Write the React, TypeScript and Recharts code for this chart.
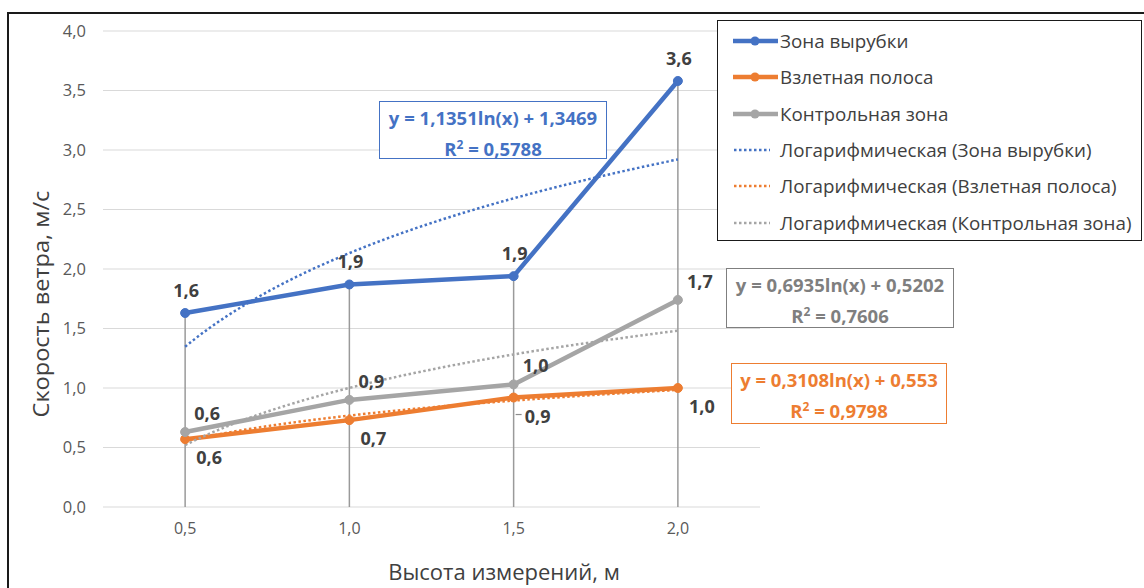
import React from 'react';
import { LineChart, Line, XAxis, YAxis, CartesianGrid, ReferenceLine, LabelList } from 'recharts';

// measurement heights (category axis) and their positions on the numeric axis
const heights = ['0,5', '1,0', '1,5', '2,0'];
const heightIdx = [1, 2, 3, 4];

// wind speed, m/s
const cuttingZone = [1.63, 1.87, 1.94, 3.58];
const runway = [0.57, 0.73, 0.92, 1.0];
const controlZone = [0.63, 0.9, 1.03, 1.74];

// logarithmic trend coefficients: y = a*ln(x) + b, and R²
const cuttingTrend = [1.1351, 1.3469];
const runwayTrend = [0.3108, 0.553];
const controlTrend = [0.6935, 0.5202];
const cuttingR2 = '0,5788';
const runwayR2 = '0,9798';
const controlR2 = '0,7606';

const yTicks = [0, 0.5, 1, 1.5, 2, 2.5, 3, 3.5, 4];

const BLUE = '#4472C4';
const ORANGE = '#ED7D31';
const GRAY = '#A5A5A5';
const FONT = '"Open Sans", "Noto Sans", sans-serif';

const comma = (v: number | string) => String(v).replace('.', ',');
const fmt1 = (v: number) => comma(Number(v).toFixed(1));

const toPoints = (vals: number[]) => heightIdx.map((x, i) => ({ x, v: vals[i] }));

const trendPoints = ([a, b]: number[]) => {
  const pts: { x: number; v: number }[] = [];
  for (let k = 0; k <= 60; k++) {
    const x = 1 + (k * 3) / 60;
    pts.push({ x, v: a * Math.log(x) + b });
  }
  return pts;
};

const equation = ([a, b]: number[]) => `y = ${comma(a)}ln(x) + ${comma(b)}`;

const makeLabel = (dx: number, dy: number, leaderIndex?: number) => (props: any) => {
  const { x, y, value, index } = props;
  if (x == null || y == null) return null;
  return (
    <g>
      {leaderIndex === index && (
        <line x1={x + 2} y1={y + 17} x2={x + 8} y2={y + 17} stroke="#8c8c8c" strokeWidth={1.2} />
      )}
      <text
        x={x + dx}
        y={y + dy}
        textAnchor="middle"
        dominantBaseline="central"
        fontFamily={FONT}
        fontWeight={700}
        fontSize={18}
        fill="#404040"
      >
        {fmt1(value)}
      </text>
    </g>
  );
};

const EquationBox = ({ left, top, width, height, color, coef, r2 }: any) => (
  <div
    style={{
      position: 'absolute',
      left,
      top,
      width,
      height,
      boxSizing: 'border-box',
      border: `1.5px solid ${color}`,
      background: '#fff',
      color,
      fontWeight: 700,
      fontSize: 18.5,
      lineHeight: '27px',
      textAlign: 'center',
      paddingTop: 2,
      whiteSpace: 'nowrap',
    }}
  >
    <div>{equation(coef)}</div>
    <div>
      R<sup style={{ fontSize: 12, verticalAlign: 7 }}>2</sup> = {r2}
    </div>
  </div>
);

const legendItems = [
  { name: 'Зона вырубки', color: BLUE, dotted: false },
  { name: 'Взлетная полоса', color: ORANGE, dotted: false },
  { name: 'Контрольная зона', color: GRAY, dotted: false },
  { name: 'Логарифмическая (Зона вырубки)', color: BLUE, dotted: true },
  { name: 'Логарифмическая (Взлетная полоса)', color: ORANGE, dotted: true },
  { name: 'Логарифмическая (Контрольная зона)', color: GRAY, dotted: true },
];

export default function App() {
  const series = [
    { name: 'Зона вырубки', vals: cuttingZone, color: BLUE, label: makeLabel(1, -23) },
    { name: 'Взлетная полоса', vals: runway, color: ORANGE, label: makeLabel(24, 18, 2) },
    { name: 'Контрольная зона', vals: controlZone, color: GRAY, label: makeLabel(22, -19) },
  ];
  const trends = [
    { name: 'trend-cutting', coef: cuttingTrend, color: BLUE },
    { name: 'trend-runway', coef: runwayTrend, color: ORANGE },
    { name: 'trend-control', coef: controlTrend, color: GRAY },
  ];
  const tops = heightIdx.map((_, i) => Math.max(cuttingZone[i], runway[i], controlZone[i]));

  return (
    <div
      style={{
        position: 'fixed',
        left: 0,
        top: 0,
        width: 1144,
        height: 588,
        overflow: 'hidden',
        background: '#fff',
        fontFamily: FONT,
      }}
    >
      <div
        style={{
          position: 'absolute',
          left: 7,
          top: 12,
          width: 1200,
          height: 700,
          border: '2px solid #1a1a1a',
        }}
      />
      <LineChart width={1144} height={588} margin={{ top: 31, right: 384, bottom: 41, left: 0 }}>
        <CartesianGrid vertical={false} stroke="#D9D9D9" strokeWidth={1.2} />
        <XAxis
          type="number"
          dataKey="x"
          domain={[0.5, 4.5]}
          ticks={heightIdx}
          tickFormatter={(v) => heights[heightIdx.indexOf(v)] ?? ''}
          axisLine={false}
          tickLine={false}
          tickSize={0}
          tickMargin={16}
          height={40}
          tick={{ fill: '#595959', fontSize: 16, fontFamily: FONT }}
          allowDuplicatedCategory={false}
        />
        <YAxis
          type="number"
          domain={[0, 4]}
          ticks={yTicks}
          tickFormatter={(v) => fmt1(v)}
          axisLine={false}
          tickLine={false}
          tickSize={0}
          tickMargin={17}
          width={103}
          tick={{ fill: '#595959', fontSize: 16.5, fontFamily: FONT }}
        />
        {heightIdx.map((x, i) => (
          <ReferenceLine
            key={'drop' + x}
            segment={[
              { x, y: 0 },
              { x, y: tops[i] },
            ]}
            stroke="#9a9a9a"
            strokeWidth={1.5}
          />
        ))}
        {series.map((s) => (
          <Line
            key={s.name}
            data={toPoints(s.vals)}
            dataKey="v"
            name={s.name}
            type="linear"
            stroke={s.color}
            strokeWidth={4.5}
            dot={{ r: 4.5, fill: s.color, stroke: s.color, strokeWidth: 1 }}
            activeDot={false}
            isAnimationActive={false}
          >
            <LabelList dataKey="v" content={s.label} />
          </Line>
        ))}
        {trends.map((t) => (
          <Line
            key={t.name}
            data={trendPoints(t.coef)}
            dataKey="v"
            name={t.name}
            type="monotone"
            stroke={t.color}
            strokeWidth={2.5}
            strokeDasharray="2.5 2.5"
            dot={false}
            activeDot={false}
            isAnimationActive={false}
          />
        ))}
      </LineChart>

      <EquationBox left={379} top={101} width={228} height={58} color={BLUE} coef={cuttingTrend} r2={cuttingR2} />
      <EquationBox left={726} top={268} width={228} height={60} color="#7F7F7F" coef={controlTrend} r2={controlR2} />
      <EquationBox left={731} top={363} width={216} height={61} color={ORANGE} coef={runwayTrend} r2={runwayR2} />

      <div
        style={{
          position: 'absolute',
          left: 717,
          top: 20,
          width: 425,
          height: 221,
          boxSizing: 'border-box',
          border: '1.5px solid #1a1a1a',
          background: '#fff',
        }}
      >
        {legendItems.map((it, i) => (
          <div
            key={it.name}
            style={{
              position: 'absolute',
              left: 14,
              top: 8 + i * 36.3,
              height: 24,
              display: 'flex',
              alignItems: 'center',
              whiteSpace: 'nowrap',
            }}
          >
            <svg width={48} height={24} style={{ flex: 'none' }}>
              {it.dotted ? (
                <line x1={2} y1={12} x2={38} y2={12} stroke={it.color} strokeWidth={2.5} strokeDasharray="2.5 2.5" />
              ) : (
                <>
                  <line x1={1} y1={12} x2={46} y2={12} stroke={it.color} strokeWidth={4.5} />
                  <circle cx={23} cy={12} r={4.5} fill={it.color} />
                </>
              )}
            </svg>
            <span style={{ fontSize: 18.8, color: '#404040' }}>{it.name}</span>
          </div>
        ))}
      </div>

      <div
        style={{
          position: 'absolute',
          left: 504,
          top: 571,
          transform: 'translate(-50%, -50%)',
          fontSize: 22,
          lineHeight: '30px',
          color: '#404040',
          whiteSpace: 'nowrap',
        }}
      >
        Высота измерений, м
      </div>
      <div
        style={{
          position: 'absolute',
          left: 40,
          top: 304,
          transform: 'translate(-50%, -50%) rotate(-90deg) scaleX(1.07)',
          fontSize: 22,
          color: '#404040',
          whiteSpace: 'nowrap',
        }}
      >
        Скорость ветра, м/с
      </div>
    </div>
  );
}
